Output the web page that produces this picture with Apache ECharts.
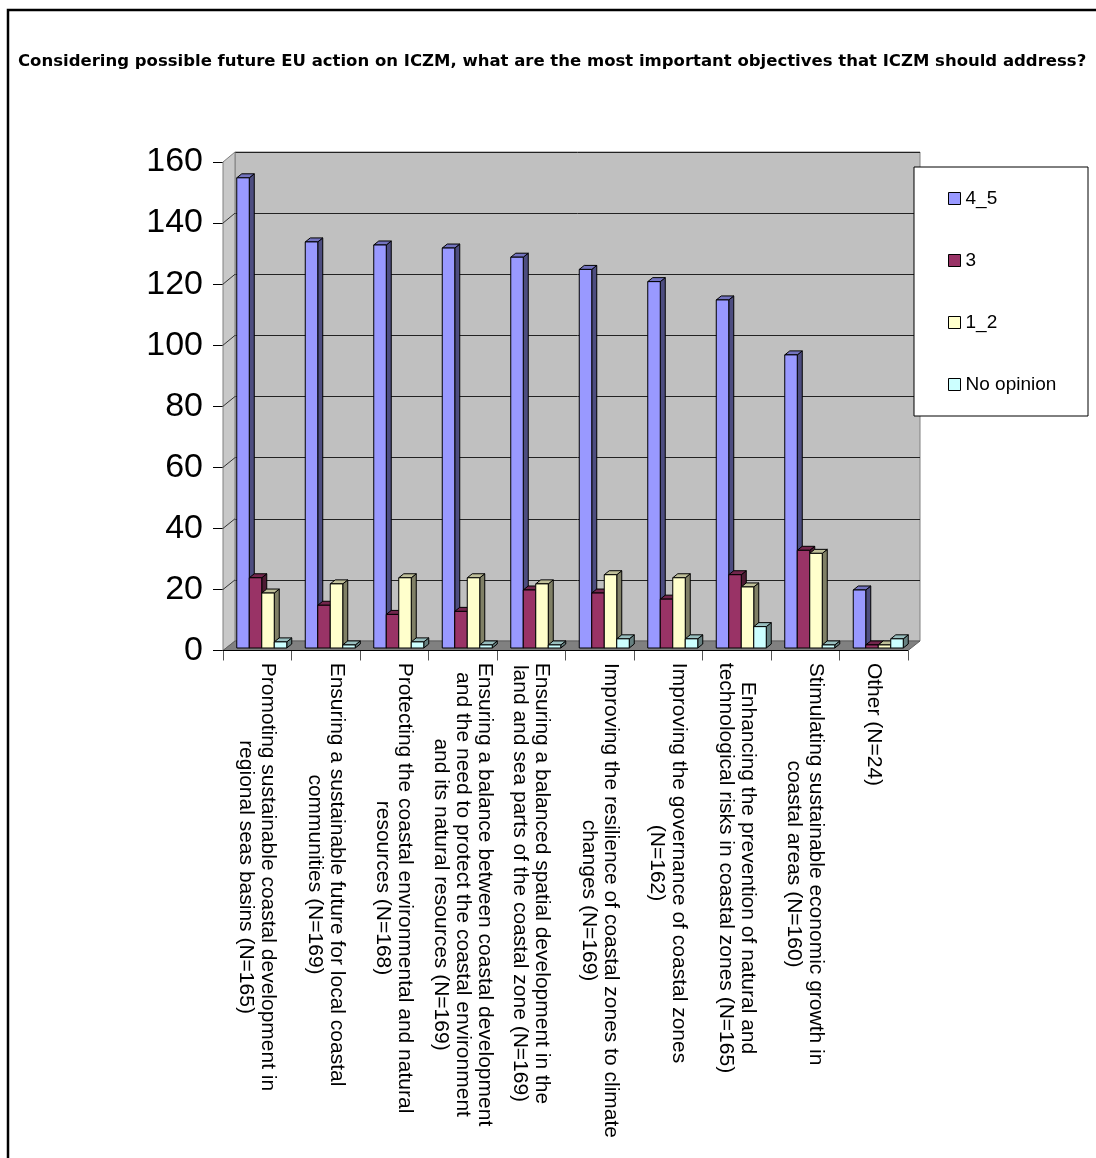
<!DOCTYPE html>
<html>
<head>
<meta charset="utf-8">
<script src="https://cdn.jsdelivr.net/npm/echarts@6/dist/echarts.min.js"></script>
<style>
  html, body { margin: 0; padding: 0; background: #ffffff; }
  #chart { width: 1096px; height: 1158px; }
</style>
</head>
<body>
<div id="chart"></div>
<script>
// Survey question and answer categories
const titleText = 'Considering possible future EU action on ICZM, what are the most important objectives that ICZM should address?';

const categories = [
  'Promoting sustainable coastal development in\nregional seas basins (N=165)',
  'Ensuring a sustainable future for local coastal\ncommunities (N=169)',
  'Protecting the coastal environmental and natural\nresources (N=168)',
  'Ensuring a balance between coastal development\nand the need to protect the coastal environment\nand its natural resources (N=169)',
  'Ensuring a balanced spatial development in the\nland and sea parts of the coastal zone (N=169)',
  'Improving the resilience of coastal zones to climate\nchanges (N=169)',
  'Improving the governance of coastal zones\n(N=162)',
  'Enhancing the prevention of natural and\ntechnological risks in coastal zones (N=165)',
  'Stimulating sustainable economic growth in\ncoastal areas (N=160)',
  'Other (N=24)'
];

const seriesNames = ['4_5', '3', '1_2', 'No opinion'];

// Number of respondents per score group
const score45 = [154, 133, 132, 131, 128, 124, 120, 114, 96, 19];
const score3 = [23, 14, 11, 12, 19, 18, 16, 24, 32, 1];
const score12 = [18, 21, 23, 23, 21, 24, 23, 20, 31, 1];
const noOpinion = [2, 1, 2, 1, 1, 3, 3, 7, 1, 3];

const yMin = 0, yMax = 160, yStep = 20;

// Face colours for the extruded bars: front, side, top
const palettes = [
  { front: '#9999FF', side: '#4D4D80', top: '#7373BF' },
  { front: '#993366', side: '#4D1A33', top: '#73264D' },
  { front: '#FFFFCC', side: '#808066', top: '#BFBF99' },
  { front: '#CCFFFF', side: '#668080', top: '#99BFBF' }
];

const FONT = '"Liberation Sans", Arial, sans-serif';
const TITLE_FONT = '"DejaVu Sans", "Liberation Sans", sans-serif';
const LABEL_SIZE = 21;

// Plot box (front face) and back wall, in page pixels
const W = 1096, H = 1158;
const front = { left: 223, right: W - 908, top: 162, bottom: H - 650.5 };
const wall = { left: 235, right: W - 920, top: 152, bottom: H - 641 };

// Each multi-line category label is centred line by line inside a box as wide as its longest line
const measureCtx = document.createElement('canvas').getContext('2d');
measureCtx.font = LABEL_SIZE + 'px "Liberation Sans", Arial, sans-serif';
const labelRich = {};
categories.forEach(function (c, i) {
  const widest = Math.max.apply(null, c.split('\n').map(function (l) { return measureCtx.measureText(l).width; }));
  labelRich['c' + i] = {
    width: Math.ceil(widest) + 2,
    align: 'center',
    fontSize: LABEL_SIZE,
    lineHeight: 22,
    fontFamily: FONT,
    color: '#000'
  };
});

function barRenderer(slot, pal) {
  return function (params, api) {
    const cat = api.value(0);
    const val = api.value(1);
    const base = api.coord([cat, 0]);
    const top = api.coord([cat, val]);
    const bw = 12.5, dx = 5, dy = -4, lift = 2.5;
    const x0 = base[0] - 20.5 + slot * bw;
    const yb = base[1] - lift;
    const yt = top[1] - lift;
    const edge = { stroke: '#000', lineWidth: 1 };
    return {
      type: 'group',
      children: [
        { type: 'polygon', shape: { points: [[x0 + bw, yt], [x0 + bw + dx, yt + dy], [x0 + bw + dx, yb + dy], [x0 + bw, yb]] },
          style: Object.assign({ fill: pal.side }, edge) },
        { type: 'polygon', shape: { points: [[x0, yt], [x0 + dx, yt + dy], [x0 + bw + dx, yt + dy], [x0 + bw, yt]] },
          style: Object.assign({ fill: pal.top }, edge) },
        { type: 'rect', shape: { x: x0, y: yt, width: bw, height: yb - yt },
          style: Object.assign({ fill: pal.front }, edge) }
      ]
    };
  };
}

const seriesValues = [score45, score3, score12, noOpinion];

const chart = echarts.init(document.getElementById('chart'), null, { renderer: 'canvas' });

const option = {
  animation: false,
  backgroundColor: '#ffffff',
  title: {
    text: titleText,
    left: 18,
    top: 53,
    padding: 0,
    textStyle: { fontFamily: TITLE_FONT, fontWeight: 'bold', fontSize: 16.5, lineHeight: 18, color: '#000' }
  },
  legend: {
    data: seriesNames,
    orient: 'vertical',
    left: 948,
    top: 189,
    padding: 0,
    itemGap: 43,
    itemWidth: 12,
    itemHeight: 12,
    icon: 'rect',
    itemStyle: { borderColor: '#000', borderWidth: 1 },
    textStyle: { fontFamily: FONT, fontSize: 19, lineHeight: 19, color: '#000' },
    selectedMode: false
  },
  grid: [
    { left: front.left, right: front.right, top: front.top, bottom: front.bottom },
    { left: wall.left, right: wall.right, top: wall.top, bottom: wall.bottom,
      show: true, backgroundColor: '#C0C0C0', borderColor: '#808080', borderWidth: 1 }
  ],
  xAxis: [
    {
      type: 'category', gridIndex: 0, data: categories, boundaryGap: true,
      axisLine: { show: true, lineStyle: { color: '#000', width: 1 } },
      axisTick: { show: true, length: 10, lineStyle: { color: '#555' } },
      axisLabel: {
        interval: 0, rotate: -90, margin: 11, hideOverlap: false,
        formatter: function (value, index) {
          return value.split('\n').map(function (l) { return '{c' + index + '|' + l + '}'; }).join('\n');
        },
        rich: labelRich,
        fontFamily: FONT, fontSize: LABEL_SIZE, color: '#000'
      },
      splitLine: { show: false }
    },
    { type: 'category', gridIndex: 1, data: categories, show: false }
  ],
  yAxis: [
    {
      type: 'value', gridIndex: 0, min: yMin, max: yMax, interval: yStep,
      axisLine: { show: true, lineStyle: { color: '#000', width: 1 } },
      axisTick: { show: true, length: 10, lineStyle: { color: '#000' } },
      axisLabel: { margin: 20, fontFamily: FONT, fontSize: 34, color: '#000' },
      splitLine: { show: false }
    },
    {
      type: 'value', gridIndex: 1, min: yMin, max: yMax, interval: yStep,
      axisLine: { show: false }, axisTick: { show: false }, axisLabel: { show: false },
      splitLine: { show: true, lineStyle: { color: '#222', width: 1 } }
    }
  ],
  series: seriesNames.map(function (name, s) {
    return {
      type: 'custom',
      name: name,
      xAxisIndex: 0,
      yAxisIndex: 0,
      renderItem: barRenderer(s, palettes[s]),
      itemStyle: { color: palettes[s].front, borderColor: '#000', borderWidth: 1 },
      encode: { x: 0, y: 1 },
      data: seriesValues[s].map(function (v, i) { return [i, v]; }),
      z: 5
    };
  })
};

chart.setOption(option);

// Side wall, floor, frame and legend box, placed from the two value axes
const yFront = function (v) { return chart.convertToPixel({ yAxisIndex: 0 }, v); };
const yBack = function (v) { return chart.convertToPixel({ yAxisIndex: 1 }, v); };
const fx0 = front.left, fx1 = W - front.right;
const bx0 = wall.left, bx1 = W - wall.right;

const graphics = [
  { type: 'rect', z: 0, shape: { x: 8, y: 10, width: 1300, height: 1300 },
    style: { fill: 'none', stroke: '#000', lineWidth: 2.5 } },
  { type: 'polygon', z: 1,
    shape: { points: [[fx0, yFront(yMax)], [bx0, yBack(yMax)], [bx0, yBack(yMin)], [fx0, yFront(yMin)]] },
    style: { fill: '#C8C8C8', stroke: '#808080', lineWidth: 1 } },
  { type: 'polygon', z: 1,
    shape: { points: [[fx0, yFront(yMin)], [bx0, yBack(yMin)], [bx1, yBack(yMin)], [fx1, yFront(yMin)]] },
    style: { fill: '#808080', stroke: '#606060', lineWidth: 1 } },
  { type: 'line', z: 2, shape: { x1: fx0, y1: yFront(yMin), x2: fx1, y2: yFront(yMin) },
    style: { stroke: '#000', lineWidth: 1 } },
  { type: 'rect', z: 3, shape: { x: 914, y: 167, width: 174, height: 249 },
    style: { fill: '#ffffff', stroke: '#000', lineWidth: 1 } }
];
for (let v = yMin + yStep; v < yMax; v += yStep) {
  graphics.push({ type: 'line', z: 2,
    shape: { x1: fx0, y1: yFront(v), x2: bx0, y2: yBack(v) },
    style: { stroke: '#333', lineWidth: 1 } });
}
chart.setOption({ graphic: graphics });
</script>
</body>
</html>
